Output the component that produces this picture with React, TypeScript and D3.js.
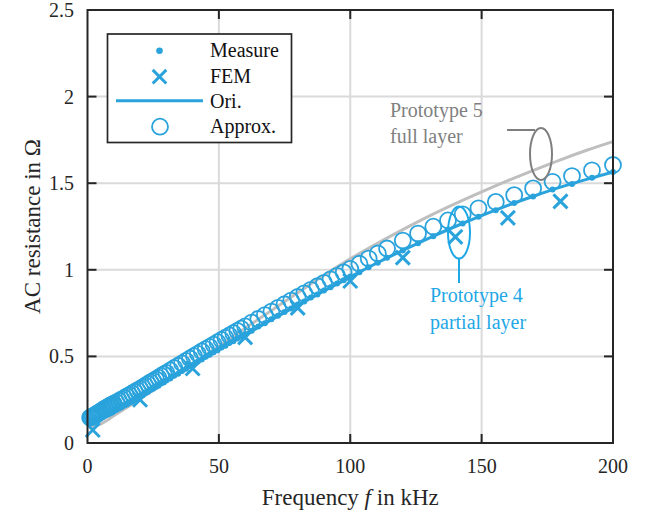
import React from 'react';
import * as d3 from 'd3';

// measured frequencies (kHz), prototype 4
const measFreq = [
  1, 1.5, 2, 2.5, 3, 3.5, 4, 4.5, 5, 5.5,
  6, 6.5, 7, 7.5, 8, 8.5, 9, 9.5, 10,
  11, 12, 13, 14, 15, 16, 17, 18, 19, 20,
  21, 22, 23, 24, 25, 26, 27, 28, 29, 30,
  31.5, 33, 34.5, 36, 37.5, 39, 40.5, 42, 43.5, 45,
  46.5, 48, 49.5, 51, 52.5, 54, 55.5, 57, 58.5, 60,
  62.5, 65, 67.5, 70, 72.5, 75, 77.5, 80, 82.5, 85,
  87.5, 90, 92.5, 95, 97.5, 100,
  103.5, 107, 110.5, 114,
  120, 125.8, 131.6, 137.2, 142.8, 148.8, 155.4, 162.4, 169.6, 177,
  184.4, 192, 200,
];
const measR = [
  0.131, 0.131, 0.133, 0.134, 0.137, 0.138, 0.142, 0.144, 0.148, 0.150,
  0.154, 0.156, 0.161, 0.163, 0.168, 0.170, 0.175, 0.178, 0.183,
  0.190, 0.199, 0.206, 0.216, 0.223, 0.233, 0.240, 0.251, 0.258, 0.269,
  0.276, 0.287, 0.295, 0.306, 0.313, 0.324, 0.331, 0.343, 0.350, 0.361,
  0.373, 0.389, 0.400, 0.416, 0.428, 0.444, 0.455, 0.471, 0.482, 0.498,
  0.509, 0.524, 0.536, 0.551, 0.562, 0.577, 0.588, 0.603, 0.614, 0.629,
  0.648, 0.672, 0.691, 0.715, 0.734, 0.757, 0.776, 0.799, 0.817, 0.840,
  0.858, 0.881, 0.899, 0.921, 0.939, 0.961,
  0.986, 1.015, 1.041, 1.069,
  1.111, 1.154, 1.193, 1.232, 1.267, 1.306, 1.344, 1.386, 1.423, 1.463,
  1.496, 1.532, 1.565,
];
const approxR = [
  0.147, 0.150, 0.153, 0.158, 0.162, 0.168, 0.172, 0.177, 0.182, 0.187,
  0.192, 0.197, 0.201, 0.206, 0.210, 0.215, 0.219, 0.223, 0.227,
  0.235, 0.243, 0.252, 0.260, 0.269, 0.277, 0.286, 0.295, 0.304, 0.313,
  0.322, 0.331, 0.341, 0.350, 0.359, 0.368, 0.377, 0.387, 0.396, 0.405,
  0.419, 0.433, 0.446, 0.460, 0.474, 0.488, 0.502, 0.515, 0.529, 0.542,
  0.555, 0.568, 0.582, 0.595, 0.608, 0.621, 0.634, 0.647, 0.660, 0.673,
  0.695, 0.716, 0.738, 0.759, 0.780, 0.801, 0.822, 0.843, 0.864, 0.884,
  0.905, 0.925, 0.945, 0.965, 0.985, 1.005,
  1.035, 1.065, 1.094, 1.123,
  1.169, 1.209, 1.249, 1.285, 1.320, 1.355, 1.392, 1.431, 1.470, 1.508,
  1.541, 1.574, 1.605,
];

// FEM results
const femFreq = [2, 20, 40, 60, 80, 100, 120, 140, 160, 180];
const femR = [0.075, 0.25, 0.43, 0.61, 0.78, 0.935, 1.07, 1.19, 1.3, 1.395];

// original model curve
const oriFreq = [1, 2, 3, 4, 5, 6, 7, 8, 10, 12, 14, 16, 18, 20, 25, 30, 35, 40, 45, 50,
  60, 70, 80, 90, 100, 110, 120, 130, 140, 150, 160, 170, 180, 190, 200];
const oriR = [0.130, 0.132, 0.136, 0.141, 0.147, 0.153, 0.160, 0.167, 0.182, 0.198, 0.215,
  0.232, 0.250, 0.268, 0.314, 0.360, 0.406, 0.452, 0.497, 0.541, 0.628, 0.714, 0.798, 0.880,
  0.960, 1.038, 1.112, 1.183, 1.250, 1.313, 1.372, 1.426, 1.477, 1.522, 1.565];

// prototype 5, full layer
const p5Freq = [1, 2, 4, 6, 8, 10, 12, 14, 16, 20, 25, 30, 35, 40, 45, 50, 60, 70, 80, 90,
  100, 110, 120, 130, 140, 150, 160, 170, 180, 190, 200];
const p5R = [0.093, 0.095, 0.104, 0.118, 0.136, 0.157, 0.177, 0.196, 0.215, 0.255, 0.305,
  0.355, 0.406, 0.457, 0.508, 0.559, 0.662, 0.765, 0.867, 0.968, 1.063, 1.15, 1.232, 1.31,
  1.382, 1.45, 1.515, 1.576, 1.635, 1.69, 1.74];

const xTicks = [0, 50, 100, 150, 200];
const yTicks = [0, 0.5, 1, 1.5, 2, 2.5];
const legendLabels = ['Measure', 'FEM', 'Ori.', 'Approx.'];

const W = 645;
const H = 515;
const L = 87.5, R = 613, T = 10, B = 443;
const BLUE = '#2aa3dc';
const TXTBLUE = '#1fa8e6';
const FONT = '"Liberation Serif", "Times New Roman", serif';

const x = d3.scaleLinear().domain([0, 200]).range([L, R]);
const y = d3.scaleLinear().domain([0, 2.5]).range([B, T]);

const lineGen = d3.line<[number, number]>()
  .x(d => x(d[0]))
  .y(d => y(d[1]))
  .curve(d3.curveMonotoneX);

const cross = (cx: number, cy: number, s: number) =>
  `M${cx - s},${cy - s}L${cx + s},${cy + s}M${cx - s},${cy + s}L${cx + s},${cy - s}`;

export default function App() {
  const oriPath = lineGen(oriFreq.map((f, i) => [f, oriR[i]]));
  const p5Path = lineGen(p5Freq.map((f, i) => [f, p5R[i]]));
  const tick = 9;

  return (
    <svg width={W} height={H} style={{ position: 'absolute', left: 0, top: 0, background: '#fff' }}
      fontFamily={FONT}>
      {/* grid */}
      <g stroke="#dadada" strokeWidth={2}>
        {xTicks.slice(1, -1).map(t => <line key={'gx' + t} x1={x(t)} x2={x(t)} y1={T} y2={B} />)}
        {yTicks.slice(1, -1).map(t => <line key={'gy' + t} x1={L} x2={R} y1={y(t)} y2={y(t)} />)}
      </g>

      {/* prototype 5 */}
      <path d={p5Path || ''} fill="none" stroke="#bfbfbf" strokeWidth={3} />

      {/* prototype 4 */}
      <g>
        {measFreq.map((f, i) => (
          <circle key={'m' + i} cx={x(f)} cy={y(measR[i])} r={3} fill={BLUE} />
        ))}
        {femFreq.map((f, i) => (
          <path key={'fe' + i} d={cross(x(f), y(femR[i]), 7)} stroke={BLUE} strokeWidth={3} fill="none" />
        ))}
        <path d={oriPath || ''} fill="none" stroke={BLUE} strokeWidth={3} />
        {measFreq.map((f, i) => (
          <circle key={'a' + i} cx={x(f)} cy={y(approxR[i])} r={8} fill="none" stroke={BLUE} strokeWidth={1.8} />
        ))}
      </g>

      {/* axes box + ticks */}
      <g stroke="#262626" strokeWidth={2}>
        <rect x={L} y={T} width={R - L} height={B - T} fill="none" />
        {xTicks.slice(1, -1).map(t => (
          <g key={'tx' + t}>
            <line x1={x(t)} x2={x(t)} y1={B} y2={B - tick} />
            <line x1={x(t)} x2={x(t)} y1={T} y2={T + tick} />
          </g>
        ))}
        {yTicks.slice(1, -1).map(t => (
          <g key={'ty' + t}>
            <line x1={L} x2={L + tick} y1={y(t)} y2={y(t)} />
            <line x1={R} x2={R - tick} y1={y(t)} y2={y(t)} />
          </g>
        ))}
      </g>

      {/* tick labels */}
      <g fontSize={20} fill="#262626">
        {xTicks.map(t => (
          <text key={'lx' + t} x={x(t)} y={473} textAnchor="middle">{t}</text>
        ))}
        {yTicks.map(t => (
          <text key={'ly' + t} x={74} y={y(t) + 7} textAnchor="end">{t}</text>
        ))}
      </g>

      {/* axis titles */}
      <text x={(L + R) / 2} y={505} textAnchor="middle" fontSize={23} fill="#262626">
        Frequency <tspan fontStyle="italic">f</tspan> in kHz
      </text>
      <text transform={`translate(40,${(T + B) / 2}) rotate(-90)`} textAnchor="middle" fontSize={23} fill="#262626">
        AC resistance in Ω
      </text>

      {/* annotations */}
      <g fontSize={20}>
        <text x={390} y={117} fill="#808080">Prototype 5</text>
        <text x={390} y={143} fill="#808080">full layer</text>
        <line x1={507} x2={535} y1={130} y2={130} stroke="#7f7f7f" strokeWidth={2} />
        <ellipse cx={541} cy={154} rx={11} ry={26} fill="none" stroke="#7f7f7f" strokeWidth={2} />

        <ellipse cx={459} cy={232.5} rx={11} ry={26} fill="none" stroke={TXTBLUE} strokeWidth={2} />
        <line x1={459} x2={459} y1={258.5} y2={283} stroke={TXTBLUE} strokeWidth={2} />
        <text x={430} y={302} fill={TXTBLUE}>Prototype 4</text>
        <text x={430} y={329} fill={TXTBLUE}>partial layer</text>
      </g>

      {/* legend */}
      <g>
        <rect x={107.5} y={34} width={184} height={108.5} fill="#fff" stroke="#262626" strokeWidth={1.7} />
        <circle cx={159.5} cy={50.7} r={3.3} fill={BLUE} />
        <path d={cross(159.5, 76.7, 6.8)} stroke={BLUE} strokeWidth={3} fill="none" />
        <line x1={116} x2={203} y1={100.7} y2={100.7} stroke={BLUE} strokeWidth={3} />
        <circle cx={160} cy={126.7} r={8} fill="none" stroke={BLUE} strokeWidth={1.8} />
        {legendLabels.map((s, i) => (
          <text key={s} x={210} y={[57.3, 83.3, 108.3, 133.3][i]} fontSize={20} fill="#111">{s}</text>
        ))}
      </g>
    </svg>
  );
}
